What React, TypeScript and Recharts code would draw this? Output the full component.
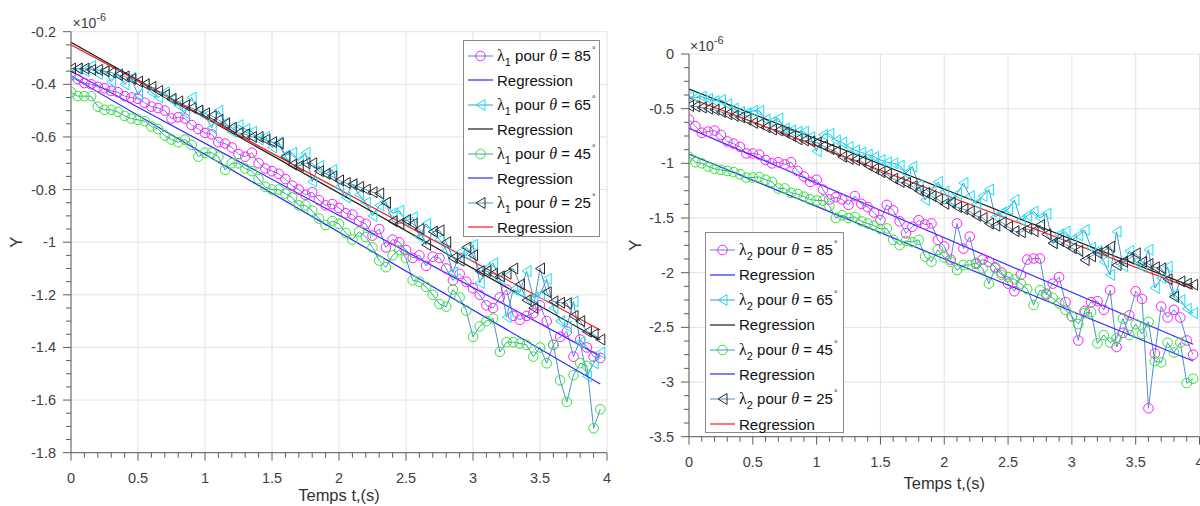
import React from 'react';
import { LineChart, Line, XAxis, YAxis, CartesianGrid, Legend } from 'recharts';

const SANS = '"Liberation Sans", Arial, Helvetica, sans-serif';
const SERIF = '"Liberation Serif", "Times New Roman", serif';
const AXIS = '#5c5c5c';
const TEXT = '#404040';
const GRID = '#e3e3e3';
const DATA_LINE = '#4a90d2';

// time axis (s)
const temps = [
  0, 0.05, 0.1, 0.15, 0.2, 0.25, 0.3, 0.35, 0.4, 0.45,
  0.5, 0.55, 0.6, 0.65, 0.7, 0.75, 0.8, 0.85, 0.9, 0.95,
  1, 1.05, 1.1, 1.15, 1.2, 1.25, 1.3, 1.35, 1.4, 1.45,
  1.5, 1.55, 1.6, 1.65, 1.7, 1.75, 1.8, 1.85, 1.9, 1.95,
  2, 2.05, 2.1, 2.15, 2.2, 2.25, 2.3, 2.35, 2.4, 2.45,
  2.5, 2.55, 2.6, 2.65, 2.7, 2.75, 2.8, 2.85, 2.9, 2.95,
  3, 3.05, 3.1, 3.15, 3.2, 3.25, 3.3, 3.35, 3.4, 3.45,
  3.5, 3.55, 3.6, 3.65, 3.7, 3.75, 3.8, 3.85, 3.9, 3.95,
];

// lambda 1 (x1e-6)
const lambda1_85 = [
  -0.365, -0.38, -0.395, -0.40, -0.41, -0.415, -0.425, -0.43, -0.445, -0.45,
  -0.455, -0.47, -0.485, -0.49, -0.50, -0.53, -0.525, -0.53, -0.555, -0.57,
  -0.585, -0.59, -0.62, -0.625, -0.64, -0.665, -0.675, -0.66, -0.70, -0.72,
  -0.73, -0.74, -0.76, -0.785, -0.80, -0.82, -0.81, -0.84, -0.86, -0.855,
  -0.87, -0.89, -0.895, -0.92, -0.93, -0.975, -0.95, -1.02, -0.99, -1.00,
  -1.03, -1.06, -1.05, -1.09, -1.055, -1.06, -1.10, -1.145, -1.12, -1.15,
  -1.175, -1.20, -1.24, -1.25, -1.21, -1.18, -1.28, -1.295, -1.28, -1.27,
  -1.24, -1.30, -1.39, -1.36, -1.34, -1.435, -1.37, -1.40, -1.435, -1.44,
];
const lambda1_65 = [
  -0.36, -0.34, -0.35, -0.33, -0.36, -0.35, -0.39, -0.36, -0.40, -0.375,
  -0.44, -0.40, -0.43, -0.45, -0.43, -0.46, -0.48, -0.51, -0.45, -0.50,
  -0.52, -0.565, -0.50, -0.545, -0.58, -0.555, -0.57, -0.58, -0.61, -0.60,
  -0.64, -0.62, -0.67, -0.66, -0.69, -0.66, -0.77, -0.71, -0.74, -0.725,
  -0.79, -0.83, -0.78, -0.82, -0.85, -0.90, -0.86, -0.85, -0.89, -0.88,
  -0.92, -0.905, -0.98, -0.93, -0.96, -0.99, -1.03, -1.115, -1.04, -1.05,
  -1.01, -1.155, -1.10, -1.08, -1.14, -1.285, -1.18, -1.19, -1.11, -1.21,
  -1.20, -1.14, -1.25, -1.30, -1.32, -1.225, -1.38, -1.51, -1.46, -1.42,
];
const lambda1_45 = [
  -0.43, -0.445, -0.445, -0.445, -0.485, -0.497, -0.497, -0.505, -0.52, -0.53,
  -0.535, -0.54, -0.56, -0.57, -0.595, -0.61, -0.62, -0.61, -0.63, -0.675,
  -0.66, -0.66, -0.675, -0.725, -0.70, -0.70, -0.72, -0.73, -0.76, -0.79,
  -0.80, -0.80, -0.815, -0.83, -0.86, -0.86, -0.88, -0.91, -0.935, -0.92,
  -0.93, -0.965, -0.99, -0.96, -0.98, -1.02, -1.07, -1.095, -1.05, -1.03,
  -1.06, -1.145, -1.15, -1.17, -1.20, -1.235, -1.245, -1.18, -1.21, -1.26,
  -1.36, -1.32, -1.30, -1.29, -1.417, -1.38, -1.38, -1.385, -1.39, -1.435,
  -1.40, -1.46, -1.39, -1.525, -1.607, -1.505, -1.46, -1.47, -1.707, -1.635,
];
const lambda1_25 = [
  -0.34, -0.34, -0.34, -0.345, -0.345, -0.35, -0.355, -0.365, -0.37, -0.38,
  -0.39, -0.40, -0.41, -0.425, -0.44, -0.455, -0.465, -0.48, -0.49, -0.50,
  -0.51, -0.52, -0.535, -0.55, -0.565, -0.585, -0.59, -0.60, -0.60, -0.61,
  -0.62, -0.625, -0.675, -0.705, -0.71, -0.70, -0.70, -0.73, -0.74, -0.75,
  -0.765, -0.775, -0.78, -0.79, -0.80, -0.81, -0.815, -0.85, -0.92, -0.93,
  -0.915, -0.93, -0.95, -1.01, -0.96, -0.955, -1.00, -1.06, -1.07, -1.02,
  -1.05, -1.11, -1.11, -1.12, -1.13, -1.12, -1.10, -1.16, -1.22, -1.25,
  -1.10, -1.19, -1.225, -1.23, -1.232, -1.28, -1.30, -1.34, -1.35, -1.37,
];

// lambda 2 (x1e-6)
const lambda2_85 = [
  -0.60, -0.66, -0.72, -0.71, -0.70, -0.74, -0.80, -0.82, -0.85, -0.91,
  -0.91, -0.92, -0.97, -1.00, -0.99, -1.01, -0.99, -1.07, -1.12, -1.17,
  -1.15, -1.24, -1.33, -1.31, -1.33, -1.38, -1.30, -1.37, -1.40, -1.45,
  -1.52, -1.38, -1.43, -1.53, -1.64, -1.58, -1.52, -1.56, -1.55, -1.70,
  -1.76, -1.88, -1.55, -1.78, -1.67, -1.92, -1.88, -1.90, -1.95, -2.00,
  -2.10, -2.17, -2.02, -1.88, -1.87, -1.87, -2.20, -2.10, -2.04, -2.27,
  -2.40, -2.62, -2.35, -2.27, -2.26, -2.34, -2.16, -2.68, -2.55, -2.39,
  -2.17, -2.24, -3.24, -2.74, -2.31, -2.41, -2.34, -2.41, -2.62, -2.75,
];
const lambda2_65 = [
  -0.39, -0.40, -0.39, -0.41, -0.43, -0.42, -0.46, -0.50, -0.53, -0.54,
  -0.52, -0.52, -0.60, -0.62, -0.59, -0.68, -0.70, -0.71, -0.71, -0.76,
  -0.89, -0.74, -0.73, -0.79, -0.81, -0.85, -0.88, -0.90, -0.92, -0.94,
  -0.97, -0.99, -1.00, -1.02, -1.09, -1.03, -1.20, -1.335, -1.25, -1.17,
  -1.26, -1.35, -1.28, -1.18, -1.30, -1.37, -1.30, -1.24, -1.49, -1.45,
  -1.42, -1.335, -1.52, -1.48, -1.44, -1.50, -1.46, -1.73, -1.65, -1.625,
  -1.70, -1.66, -1.61, -1.77, -1.80, -1.90, -2.02, -1.625, -1.94, -1.80,
  -1.90, -1.95, -1.79, -2.14, -2.05, -1.945, -2.20, -2.25, -2.33, -2.37,
];
const lambda2_45 = [
  -0.94, -0.99, -1.00, -1.03, -1.05, -1.06, -1.07, -1.08, -1.10, -1.13,
  -1.13, -1.125, -1.15, -1.17, -1.23, -1.23, -1.27, -1.28, -1.305, -1.33,
  -1.34, -1.34, -1.39, -1.50, -1.475, -1.50, -1.49, -1.53, -1.55, -1.57,
  -1.60, -1.595, -1.70, -1.747, -1.71, -1.72, -1.70, -1.853, -1.90, -1.79,
  -1.86, -1.90, -1.976, -1.93, -1.93, -1.91, -1.96, -2.10, -1.96, -2.02,
  -2.04, -2.06, -2.10, -2.15, -2.296, -2.16, -2.19, -2.23, -2.28, -2.34,
  -2.40, -2.47, -2.37, -2.36, -2.646, -2.57, -2.64, -2.60, -2.42, -2.57,
  -2.47, -2.56, -2.45, -2.81, -2.82, -2.64, -2.73, -2.64, -3.01, -2.97,
];
const lambda2_25 = [
  -0.475, -0.48, -0.49, -0.50, -0.51, -0.53, -0.55, -0.565, -0.58, -0.60,
  -0.63, -0.64, -0.67, -0.69, -0.70, -0.72, -0.75, -0.78, -0.79, -0.80,
  -0.81, -0.84, -0.87, -0.89, -0.94, -0.96, -0.97, -0.98, -1.02, -1.05,
  -1.08, -1.10, -1.14, -1.17, -1.18, -1.21, -1.25, -1.27, -1.30, -1.33,
  -1.37, -1.36, -1.40, -1.42, -1.44, -1.48, -1.50, -1.55, -1.57, -1.54,
  -1.58, -1.62, -1.63, -1.60, -1.62, -1.564, -1.65, -1.73, -1.71, -1.74,
  -1.777, -1.80, -1.884, -1.85, -1.82, -1.80, -1.762, -1.93, -1.90, -1.87,
  -1.823, -1.90, -1.92, -1.95, -1.96, -2.06, -2.22, -2.08, -2.10, -2.11,
];

// regression end points
const regTemps = [0, 3.95];
const reg1_85 = [-0.35, -1.433];
const reg1_65 = [-0.24, -1.372];
const reg1_45 = [-0.37, -1.539];
const reg1_25 = [-0.25, -1.334];
const reg2_85 = [-0.68, -2.655];
const reg2_65 = [-0.32, -2.13];
const reg2_45 = [-0.915, -2.808];
const reg2_25 = [-0.40, -2.15];

const angles = ['85', '65', '45', '25'];

const xTicks = [
  0, 0.1, 0.2, 0.3, 0.4, 0.5, 0.6, 0.7, 0.8, 0.9, 1, 1.1, 1.2, 1.3, 1.4, 1.5, 1.6, 1.7, 1.8, 1.9,
  2, 2.1, 2.2, 2.3, 2.4, 2.5, 2.6, 2.7, 2.8, 2.9, 3, 3.1, 3.2, 3.3, 3.4, 3.5, 3.6, 3.7, 3.8, 3.9, 4,
];
const xMajor = [0, 0.5, 1, 1.5, 2, 2.5, 3, 3.5, 4];
const yTicks1 = [
  -1.8, -1.75, -1.7, -1.65, -1.6, -1.55, -1.5, -1.45, -1.4, -1.35, -1.3, -1.25, -1.2, -1.15, -1.1, -1.05,
  -1, -0.95, -0.9, -0.85, -0.8, -0.75, -0.7, -0.65, -0.6, -0.55, -0.5, -0.45, -0.4, -0.35, -0.3, -0.25, -0.2,
];
const yMajor1 = [-1.8, -1.6, -1.4, -1.2, -1, -0.8, -0.6, -0.4, -0.2];
const yTicks2 = [
  -3.5, -3.375, -3.25, -3.125, -3, -2.875, -2.75, -2.625, -2.5, -2.375, -2.25, -2.125, -2, -1.875, -1.75,
  -1.625, -1.5, -1.375, -1.25, -1.125, -1, -0.875, -0.75, -0.625, -0.5, -0.375, -0.25, -0.125, 0,
];
const yMajor2 = [-3.5, -3, -2.5, -2, -1.5, -1, -0.5, 0];

const styles = [
  { marker: 'circle', color: '#ff1aff', reg: '#2b2bff' },
  { marker: 'tri', color: '#10e2f2', reg: '#1a1a1a' },
  { marker: 'circle', color: '#2ee82e', reg: '#2b2bff' },
  { marker: 'tri', color: '#2a2a2a', reg: '#ff1a1a' },
];

const isMajor = (majors: number[], v: number) => majors.some((m) => Math.abs(m - v) < 1e-6);

const circleDot = (color: string) => (props: any) => {
  const { cx, cy, index } = props;
  return <circle key={`c-${index}`} cx={cx} cy={cy} r={4.8} fill="none" stroke={color} strokeWidth={1} />;
};

const triDot = (color: string) => (props: any) => {
  const { cx, cy, index } = props;
  return (
    <path
      key={`t-${index}`}
      d={`M${cx - 4.5},${cy} L${cx + 4.5},${cy - 5.5} L${cx + 4.5},${cy + 5.5} Z`}
      fill="none"
      stroke={color}
      strokeWidth={1}
    />
  );
};

const xTick = (props: any) => {
  const { x, y, payload } = props;
  const major = isMajor(xMajor, payload.value);
  return (
    <g>
      <line x1={x} x2={x} y1={y} y2={y + (major ? 8 : 5)} stroke={AXIS} />
      {major && (
        <text x={x} y={y + 30} textAnchor="middle" fontFamily={SANS} fontSize={14.5} fill={TEXT}>
          {String(payload.value)}
        </text>
      )}
    </g>
  );
};

const yTick = (majors: number[]) => (props: any) => {
  const { x, y, payload } = props;
  const major = isMajor(majors, payload.value);
  return (
    <g>
      <line x1={x - (major ? 8 : 5)} x2={x} y1={y} y2={y} stroke={AXIS} />
      {major && (
        <text x={x - 15} y={y + 5} textAnchor="end" fontFamily={SANS} fontSize={14.5} fill={TEXT}>
          {String(payload.value)}
        </text>
      )}
    </g>
  );
};

const xLabel = (dy: number) => (props: any) => {
  const vb = props.viewBox || {};
  return (
    <text x={vb.x + vb.width / 2} y={vb.y + dy} textAnchor="middle" fontFamily={SANS} fontSize={16.5} fill="#333">
      Temps t,(s)
    </text>
  );
};

const yLabel = (cx: number) => (props: any) => {
  const vb = props.viewBox || {};
  const cy = vb.y + vb.height / 2;
  return (
    <text
      x={cx}
      y={cy}
      dy="0.35em"
      transform={`rotate(-90 ${cx} ${cy})`}
      textAnchor="middle"
      fontFamily={SANS}
      fontSize={16.5}
      fill="#333"
    >
      Y
    </text>
  );
};

function LegendLabel({ idx, angle }: { idx: string; angle: string }) {
  return (
    <span>
      <span style={{ fontFamily: SERIF, fontSize: 16 }}>λ</span>
      <span style={{ fontSize: 11, position: 'relative', top: 5 }}>{idx}</span> pour{' '}
      <span style={{ fontFamily: SERIF, fontStyle: 'italic', fontSize: 16 }}>θ</span> = {angle}
      <span style={{ fontSize: 9, position: 'relative', top: -8, marginLeft: 1 }}>°</span>
    </span>
  );
}

function LegendBox({ idx, width, height, rowH, padTop }: { idx: string; width: number; height: number; rowH: number; padTop: number }) {
  return (
    <div
      style={{
        width,
        height,
        boxSizing: 'border-box',
        border: '1px solid #8a8a8a',
        background: '#fff',
        paddingTop: padTop,
      }}
    >
      {angles.map((a, i) => {
        const st = styles[i];
        return (
          <React.Fragment key={a}>
            <div style={{ height: rowH, display: 'flex', alignItems: 'center' }}>
              <svg width={33} height={14} style={{ flex: 'none' }}>
                <line x1={4} x2={29} y1={7} y2={7} stroke={DATA_LINE} strokeWidth={1} />
                {st.marker === 'circle' ? (
                  <circle cx={16.5} cy={7} r={4.8} fill="none" stroke={st.color} />
                ) : (
                  <path d="M12,7 L21,1.5 L21,12.5 Z" fill="none" stroke={st.color} />
                )}
              </svg>
              <span style={{ fontFamily: SANS, fontSize: 15, color: '#111', whiteSpace: 'nowrap' }}>
                <LegendLabel idx={idx} angle={a} />
              </span>
            </div>
            <div style={{ height: rowH, display: 'flex', alignItems: 'center' }}>
              <svg width={33} height={14} style={{ flex: 'none' }}>
                <line x1={4} x2={29} y1={7} y2={7} stroke={st.reg} strokeWidth={1.2} />
              </svg>
              <span style={{ fontFamily: SANS, fontSize: 15, color: '#111' }}>Regression</span>
            </div>
          </React.Fragment>
        );
      })}
    </div>
  );
}

type PanelProps = {
  width: number;
  margin: { top: number; right: number; bottom: number; left: number };
  yWidth: number;
  yDomain: [number, number];
  yTicks: number[];
  yMajor: number[];
  series: number[][];
  regs: number[][];
  idx: string;
  legend: { left: number; top: number; width: number; height: number; rowH: number; padTop: number };
  xLabelDy: number;
  yLabelX: number;
};

function Panel(p: PanelProps) {
  const rows = temps.map((t, i) => ({ t, s0: p.series[0][i], s1: p.series[1][i], s2: p.series[2][i], s3: p.series[3][i] }));
  const regRows = regTemps.map((t, i) => ({ t, r0: p.regs[0][i], r1: p.regs[1][i], r2: p.regs[2][i], r3: p.regs[3][i] }));

  const lines: React.ReactNode[] = [];
  styles.forEach((st, i) => {
    lines.push(
      <Line
        key={`s${i}`}
        data={rows}
        dataKey={`s${i}`}
        type="linear"
        stroke={DATA_LINE}
        strokeWidth={1}
        dot={st.marker === 'circle' ? circleDot(st.color) : triDot(st.color)}
        activeDot={false}
        isAnimationActive={false}
      />,
    );
    lines.push(
      <Line
        key={`r${i}`}
        data={regRows}
        dataKey={`r${i}`}
        type="linear"
        stroke={st.reg}
        strokeWidth={1.2}
        dot={false}
        activeDot={false}
        isAnimationActive={false}
      />,
    );
  });

  return (
    <LineChart width={p.width} height={506} margin={p.margin}>
      <CartesianGrid stroke={GRID} verticalValues={xMajor} horizontalValues={p.yMajor} />
      <XAxis
        dataKey="t"
        type="number"
        domain={[0, 4]}
        ticks={xTicks}
        interval={0}
        height={30}
        tickSize={0}
        tickMargin={0}
        tickLine={false}
        axisLine={{ stroke: AXIS }}
        tick={xTick}
        allowDataOverflow
        label={xLabel(p.xLabelDy)}
      />
      <YAxis
        type="number"
        domain={p.yDomain}
        ticks={p.yTicks}
        interval={0}
        width={p.yWidth}
        tickSize={0}
        tickMargin={0}
        tickLine={false}
        axisLine={{ stroke: AXIS }}
        tick={yTick(p.yMajor)}
        allowDataOverflow
        label={yLabel(p.yLabelX)}
      />
      {lines}
      <Legend
        layout="vertical"
        align="center"
        verticalAlign="middle"
        wrapperStyle={{ left: p.legend.left, top: p.legend.top, width: p.legend.width }}
        content={() => (
          <LegendBox idx={p.idx} width={p.legend.width} height={p.legend.height} rowH={p.legend.rowH} padTop={p.legend.padTop} />
        )}
      />
    </LineChart>
  );
}

export default function App() {
  return (
    <div style={{ position: 'absolute', left: 0, top: 0, width: 1200, height: 506, overflow: 'hidden', background: '#fff' }}>
      <div style={{ position: 'absolute', left: 0, top: 0 }}>
        <Panel
          width={620}
          margin={{ top: 31.7, right: 13, bottom: 23.3, left: 0 }}
          yWidth={71}
          yDomain={[-1.8, -0.2]}
          yTicks={yTicks1}
          yMajor={yMajor1}
          series={[lambda1_85, lambda1_65, lambda1_45, lambda1_25]}
          regs={[reg1_85, reg1_65, reg1_45, reg1_25]}
          idx="1"
          legend={{ left: 463, top: 40, width: 137, height: 197, rowH: 24.5, padTop: 2.7 }}
          xLabelDy={48}
          yLabelX={16}
        />
      </div>
      <div style={{ position: 'absolute', left: 620, top: 0 }}>
        <Panel
          width={581}
          margin={{ top: 54, right: 1.5, bottom: 39.3, left: 0 }}
          yWidth={69}
          yDomain={[-3.5, 0]}
          yTicks={yTicks2}
          yMajor={yMajor2}
          series={[lambda2_85, lambda2_65, lambda2_45, lambda2_25]}
          regs={[reg2_85, reg2_65, reg2_45, reg2_25]}
          idx="2"
          legend={{ left: 85, top: 232, width: 139, height: 201, rowH: 24.9, padTop: 4.5 }}
          xLabelDy={52}
          yLabelX={15}
        />
      </div>
      <svg width={1200} height={506} style={{ position: 'absolute', left: 0, top: 0, pointerEvents: 'none' }}>
        <text x={72.5} y={28.3} fontFamily={SANS} fontSize={14} fill={TEXT}>
          ×10<tspan dy={-7} fontSize={11}>-6</tspan>
        </text>
        <text x={690} y={50.7} fontFamily={SANS} fontSize={14} fill={TEXT}>
          ×10<tspan dy={-7} fontSize={11}>-6</tspan>
        </text>
      </svg>
    </div>
  );
}
